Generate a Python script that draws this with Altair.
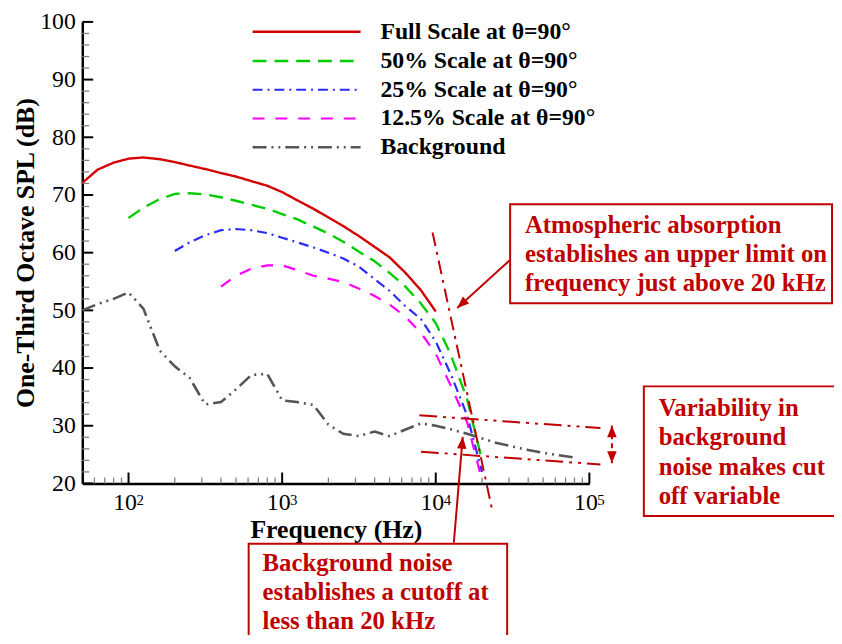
import altair as alt
import pandas as pd

# ---------------- data ----------------
FREQ_FULL = [50, 63, 80, 100, 125, 160, 200, 250, 315, 400, 500, 630, 800, 1000,
             1250, 1600, 2000, 2500, 3150, 4000, 5000, 6300, 8000, 10000]
SPL_FULL = [72.1, 74.4, 75.6, 76.3, 76.5, 76.2, 75.7, 75.1, 74.5, 73.8, 73.2, 72.4, 71.6, 70.5,
            69.1, 67.6, 66.1, 64.6, 62.9, 61.0, 59.2, 56.6, 53.5, 49.8]

FREQ_50 = [100, 125, 160, 200, 250, 315, 400, 500, 630, 800, 1000, 1250, 1600, 2000,
           2500, 3150, 4000, 5000, 6300, 8000, 10000, 12500, 16000, 20000]
SPL_50 = [66.0, 67.8, 69.3, 70.2, 70.3, 70.1, 69.6, 69.0, 68.3, 67.6, 66.7, 65.8, 64.5, 63.3,
          61.9, 60.2, 58.5, 56.5, 54.2, 51.2, 47.8, 42.4, 34.6, 24.0]

FREQ_25 = [200, 250, 315, 400, 500, 630, 800, 1000, 1250, 1600, 2000, 2500, 3150,
           4000, 5000, 6300, 8000, 10000, 12500, 16000, 20000]
SPL_25 = [60.3, 61.8, 63.0, 63.9, 64.1, 63.9, 63.4, 62.6, 61.8, 60.9, 60.0, 59.0, 57.6,
          55.4, 53.4, 50.8, 48.5, 44.6, 39.0, 31.8, 22.0]

FREQ_125 = [400, 500, 630, 800, 1000, 1250, 1600, 2000, 2500, 3150, 4000, 5000, 6300,
            8000, 10000, 12500, 16000, 20000]
SPL_125 = [54.1, 56.0, 57.2, 57.8, 57.8, 57.0, 56.0, 55.5, 54.9, 53.8, 52.5, 51.0, 49.0,
           46.1, 42.5, 37.0, 30.6, 20.5]

FREQ_BG = [50, 63, 80, 100, 125, 160, 200, 250, 315, 400, 500, 630, 800, 1000, 1250,
           1600, 2000, 2500, 3150, 4000, 5000, 6300, 8000, 10000, 12500, 16000, 20000,
           25000, 31500, 40000, 50000, 63000, 80000]
SPL_BG = [50.0, 51.1, 52.0, 53.1, 50.3, 43.0, 40.3, 38.3, 33.7, 34.1, 36.3, 38.8, 39.0, 34.4, 34.1,
          33.6, 30.2, 28.6, 28.2, 29.0, 28.2, 29.3, 30.4, 30.0, 29.4, 28.6, 27.8,
          27.0, 26.4, 25.8, 25.3, 24.9, 24.5]

SERIES_LABELS = ["Full Scale at θ=90°", "50% Scale at θ=90°", "25% Scale at θ=90°",
                 "12.5% Scale at θ=90°", "Background"]

X_MAJOR = [100, 1000, 10000, 100000]
X_EXPONENTS = ["2", "3", "4", "5"]
X_MINOR = [60, 70, 80, 90, 200, 300, 400, 500, 600, 700, 800, 900,
           2000, 3000, 4000, 5000, 6000, 7000, 8000, 9000,
           20000, 30000, 40000, 50000, 60000, 70000, 80000, 90000]
Y_MAJOR = [20, 30, 40, 50, 60, 70, 80, 90, 100]
Y_MINOR = [v for v in range(22, 100, 2) if v % 10 != 0]

# annotation guide lines (frequency, dB)
ATM_LINE = {"f": [9530, 23300], "s": [63.5, 15.4]}
BG_UPPER = {"f": [7820, 118000], "s": [31.8, 29.6]}
BG_LOWER = {"f": [8010, 118000], "s": [25.5, 23.3]}
ARROW_ATM = {"f": [30350, 13790], "s": [58.7, 50.4]}
ARROW_BG = {"f": [13115, 14985], "s": [9.75, 28.07]}
ARROW_VAR = {"f": [140200, 140200], "s": [30.06, 23.5]}

TXT_ATM = "Atmospheric absorption\nestablishes an upper limit on\nfrequency just above 20 kHz"
TXT_VAR = "Variability in\nbackground\nnoise makes cut\noff variable"
TXT_BG = "Background noise\nestablishes a cutoff at\nless than 20 kHz"

# ---------------- styling ----------------
W, H = 512, 466
FONT = "Liberation Serif"
ANN = "#c00000"
COLORS = ["#d40000", "#00cc00", "#2b2bff", "#ff00ff", "#555555"]
DASHES = [[1, 0], [14, 8], [10, 5, 2, 5], [12, 11], [14, 5, 2, 5, 2, 5]]
WIDTHS = [2.4, 2.4, 2.2, 2.2, 2.6]

xs = alt.Scale(type="log", domain=[50, 100000], nice=False)
ys = alt.Scale(domain=[20, 100], nice=False)

X_AXIS = alt.Axis(values=X_MAJOR, ticks=False, grid=False, domainColor="black", domainWidth=2.5,
                  labelExpr="'10'", labelOffset=-4,
                  labelFont=FONT, labelFontSize=24, labelColor="black", labelBaseline="alphabetic",
                  labelPadding=26, labelFlush=False, labelOverlap=False, labelBound=False,
                  title="Frequency (Hz)", titleFont=FONT, titleFontSize=26, titleFontWeight="bold",
                  titleColor="black", titleBaseline="alphabetic", titleY=55)
Y_AXIS = alt.Axis(values=Y_MAJOR, ticks=False, grid=False, domainColor="black", domainWidth=2.5,
                  labelFont=FONT, labelFontSize=24, labelColor="black", labelPadding=7,
                  labelFlush=False, labelOverlap=False,
                  title="One-Third Octave SPL (dB)", titleFont=FONT, titleFontSize=26,
                  titleFontWeight="bold", titleColor="black", titleAngle=270,
                  titleAlign="center", titleBaseline="middle", titleX=-57, titleY=233)


def xenc():
    return alt.X("f:Q", scale=xs, axis=X_AXIS)


def yenc():
    return alt.Y("s:Q", scale=ys, axis=Y_AXIS)


layers = []

# axes carrier (invisible)
axis_df = pd.DataFrame({"f": [50, 100000], "s": [20, 100]})
layers.append(alt.Chart(axis_df).mark_point(opacity=0).encode(x=xenc(), y=yenc()))

# exponents of the x tick labels
layers.append(alt.Chart(pd.DataFrame({"f": X_MAJOR, "e": X_EXPONENTS}))
              .mark_text(font=FONT, fontSize=15, color="black", align="left", baseline="alphabetic", dx=8)
              .encode(x=xenc(), y=alt.value(H + 22), text="e:N"))

# inward ticks
layers.append(alt.Chart(pd.DataFrame({"s": Y_MINOR})).mark_rule(color="#808080", strokeWidth=1.3)
              .encode(y=yenc(), x=alt.value(0), x2=alt.value(7)))
layers.append(alt.Chart(pd.DataFrame({"s": Y_MAJOR})).mark_rule(color="black", strokeWidth=2)
              .encode(y=yenc(), x=alt.value(0), x2=alt.value(11)))
layers.append(alt.Chart(pd.DataFrame({"f": X_MINOR})).mark_rule(color="#808080", strokeWidth=1.3)
              .encode(x=xenc(), y=alt.value(H), y2=alt.value(H - 6)))
layers.append(alt.Chart(pd.DataFrame({"f": X_MAJOR})).mark_rule(color="black", strokeWidth=2)
              .encode(x=xenc(), y=alt.value(H), y2=alt.value(H - 11)))

# data series
SERIES = [(FREQ_FULL, SPL_FULL), (FREQ_50, SPL_50), (FREQ_25, SPL_25),
          (FREQ_125, SPL_125), (FREQ_BG, SPL_BG)]
for i, (fr, sp) in enumerate(SERIES):
    df = pd.DataFrame({"f": fr, "s": sp})
    layers.append(alt.Chart(df).mark_line(color=COLORS[i], strokeDash=DASHES[i],
                                          strokeWidth=WIDTHS[i], clip=False)
                  .encode(x=xenc(), y=yenc()))

# legend (manual)
LEG_Y = [10, 39.5, 68.5, 97.5, 126.5]
for i, lab in enumerate(SERIES_LABELS):
    one = pd.DataFrame({"t": [lab]})
    layers.append(alt.Chart(one).mark_rule(color=COLORS[i], strokeDash=DASHES[i], strokeWidth=WIDTHS[i])
                  .encode(x=alt.value(172), x2=alt.value(281), y=alt.value(LEG_Y[i])))
    layers.append(alt.Chart(one).mark_text(font=FONT, fontSize=24, fontWeight="bold", color="black",
                                           align="left", baseline="middle")
                  .encode(x=alt.value(301), y=alt.value(LEG_Y[i]), text="t:N"))


# annotation guide lines
def seg(d, dash, width=2):
    df = pd.DataFrame(d)
    return alt.Chart(df).mark_line(color=ANN, strokeDash=dash, strokeWidth=width, clip=False).encode(
        x=xenc(), y=yenc())


layers.append(seg(ATM_LINE, [14, 6, 3, 6]))
layers.append(seg(BG_UPPER, [18, 6, 3, 6, 3, 6]))
layers.append(seg(BG_LOWER, [18, 6, 3, 6, 3, 6]))
layers.append(seg(ARROW_ATM, [1, 0]))
layers.append(seg(ARROW_BG, [1, 0]))
layers.append(seg(ARROW_VAR, [5, 4]))

HEAD = "M0,0L-0.4,1L0.4,1Z"


def head(f, s, ang):
    df = pd.DataFrame({"f": [f], "s": [s]})
    return alt.Chart(df).mark_point(shape=HEAD, filled=True, color=ANN, opacity=1, size=576,
                                    angle=ang, strokeWidth=0, clip=False).encode(x=xenc(), y=yenc())


layers.append(head(ARROW_ATM["f"][1], ARROW_ATM["s"][1], 227.8))
layers.append(head(ARROW_BG["f"][1], ARROW_BG["s"][1], 4.8))
layers.append(head(ARROW_VAR["f"][0], ARROW_VAR["s"][0], 0))
layers.append(head(ARROW_VAR["f"][1], ARROW_VAR["s"][1], 180))


# annotation boxes + text
def box(x1, x2, y1, y2, txt, tx, ty):
    one = pd.DataFrame({"t": [txt]})
    r = alt.Chart(one).mark_rect(fill="white", stroke=ANN, strokeWidth=2).encode(
        x=alt.value(x1), x2=alt.value(x2), y=alt.value(y1), y2=alt.value(y2))
    t = alt.Chart(one).mark_text(font=FONT, fontSize=25, fontWeight="bold", color=ANN,
                                 align="left", baseline="alphabetic", lineBreak="\n",
                                 lineHeight=29.5).encode(x=alt.value(tx), y=alt.value(ty), text="t:N")
    return [r, t]


layers += box(432, 757, 184, 284, TXT_ATM, 447, 213)
layers += box(567, 770, 368, 499, TXT_VAR, 582, 398)
layers += box(168, 429, 527, 660, TXT_BG, 182, 554)

chart = alt.layer(*layers).properties(
    width=W, height=H,
    padding={"left": 75, "top": 11, "right": 247, "bottom": 150},
    autosize=alt.AutoSizeParams(type="none"),
).configure_view(stroke=None)

chart.save("out.html", embed_options={"renderer": "svg", "actions": False})
